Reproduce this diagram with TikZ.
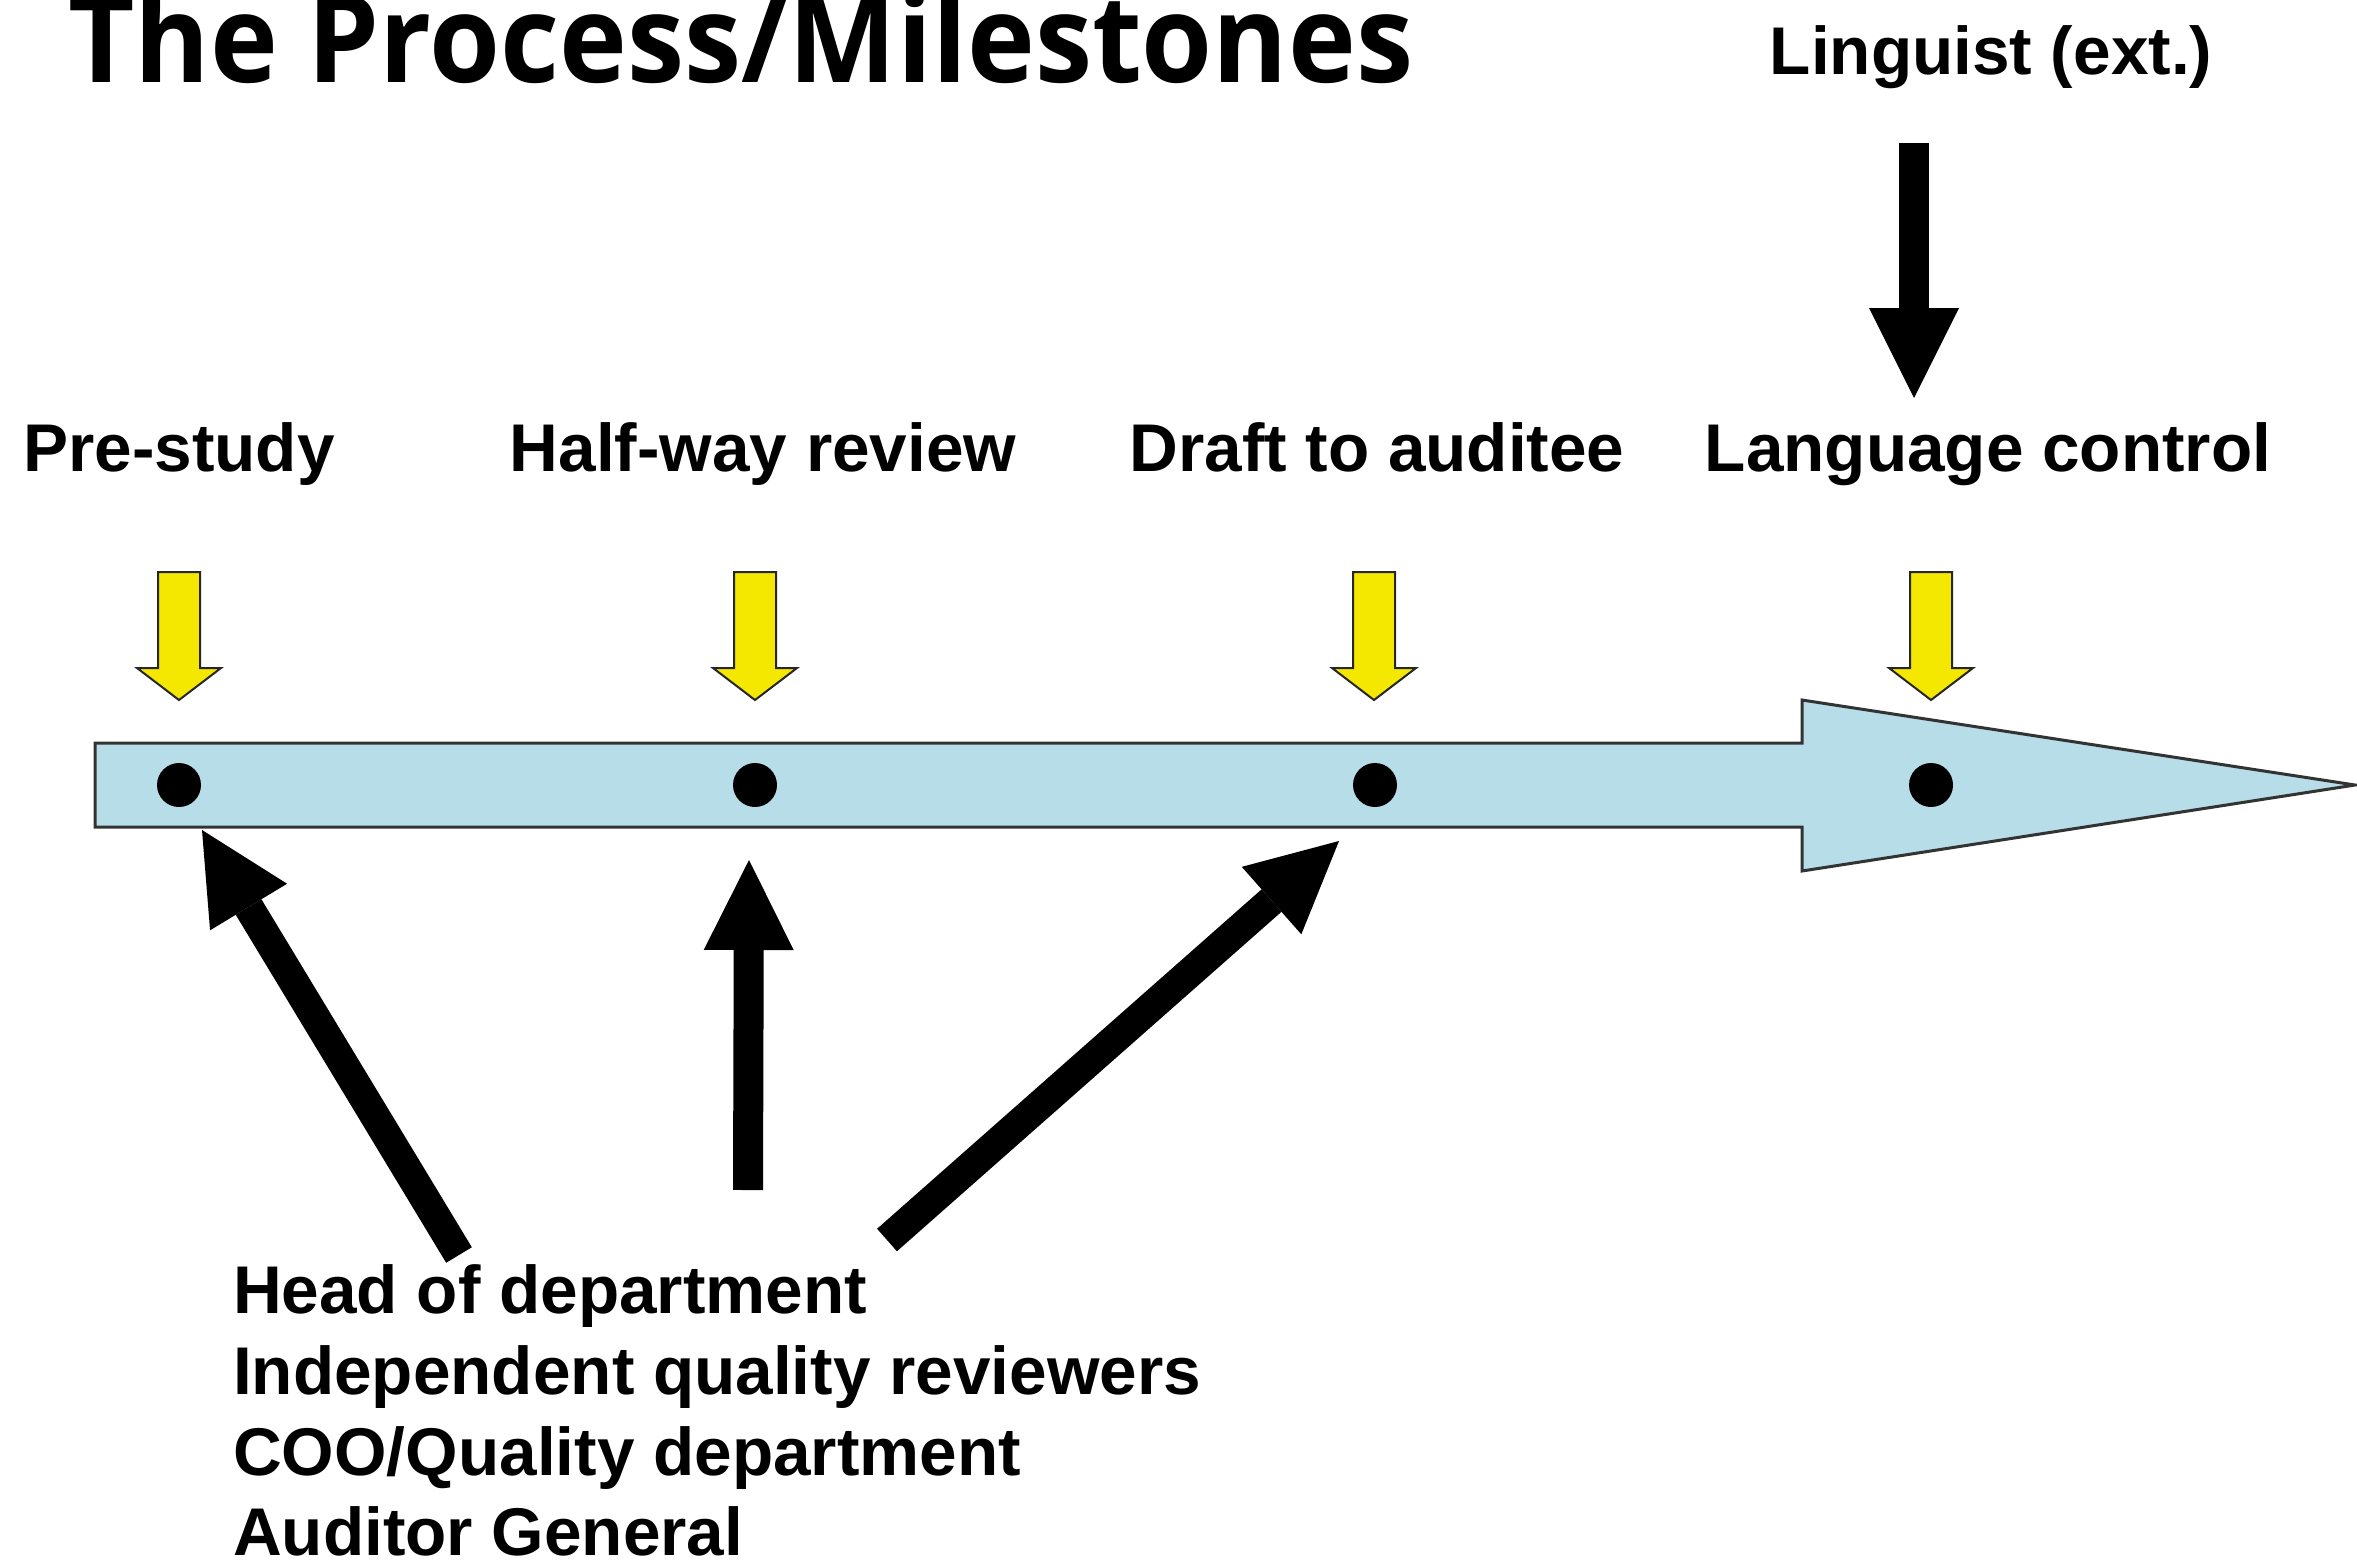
\documentclass[tikz,border=0pt]{standalone}
\usepackage{fontspec}
\setmainfont{Liberation Sans}
\newfontfamily\titlefont{Open Sans}
\usetikzlibrary{arrows.meta}
\definecolor{barblue}{RGB}{183,222,232}
\definecolor{arrowyellow}{RGB}{245,232,0}
\tikzset{
  lbl/.style={inner sep=0pt, font=\fontsize{67.5}{81}\selectfont\bfseries},
  dot/.style={circle, fill=black, inner sep=0pt, minimum size=44pt},
  blk/.style={line width=30pt, black, -{Triangle[length=90pt,width=90pt,line width=0pt]}},
  bar/.style={fill=barblue, draw=black!80, line width=3pt, line join=miter},
  ybox/.style={fill=arrowyellow, draw=black!85, line width=2pt, line join=miter},
  yarrow/.pic={
    \draw[ybox] (-21,-128) -- (21,-128) -- (21,-32) -- (42,-32) -- (0,0)
       -- (-42,-32) -- (-21,-32) -- cycle;
  }
}
\begin{document}
\begin{tikzpicture}[x=1pt,y=-1pt]
\useasboundingbox (0,0) rectangle (2357,1561);

% title
\node[anchor=base west, inner sep=0pt] (title) at (68,82)
  {\resizebox{1345pt}{\height}{\titlefont\bfseries\fontsize{122}{122}\selectfont The Process/Milestones}};

% timeline bar
\draw[bar] (95,743) -- (1802,743) -- (1802,700) -- (2355,785) -- (1802,871)
  -- (1802,827) -- (95,827) -- cycle;

% milestone dots
\node[dot] (d1) at (179,785) {};
\node[dot] (d2) at (755,785) {};
\node[dot] (d3) at (1375,785) {};
\node[dot] (d4) at (1931,785) {};

% yellow arrows
\pic at (179,700) {yarrow};
\pic at (755,700) {yarrow};
\pic at (1374,700) {yarrow};
\pic at (1931,700) {yarrow};

% milestone labels
\node[lbl, anchor=base] (pre) at (179,471) {Pre-study};
\node[lbl, anchor=base] (half) at (763,471) {Half-way review};
\node[lbl, anchor=base] (draft) at (1377,471) {Draft to auditee};
\node[lbl, anchor=base] (lang) at (1988,471) {Language control};

% linguist
\node[lbl, anchor=base] (ling) at (1991,74) {Linguist (ext.)};
\coordinate (lingtail) at (1914,143);
\coordinate (lingtip) at (1914,398);
\draw[blk] (lingtail) -- (lingtip);

% reviewers list
\node[lbl, anchor=base west] (hod) at (233,1313) {Head of department};
\node[lbl, anchor=base west] (iqr) at (233,1394) {Independent quality reviewers};
\node[lbl, anchor=base west] (coo) at (233,1475) {COO/Quality department};
\node[lbl, anchor=base west] (ag) at (233,1555) {Auditor General};

% black arrows from reviewers
\coordinate (t1) at (459,1255);
\coordinate (h1) at (202,830);
\coordinate (t2) at (748,1190);
\coordinate (h2) at (749,860);
\coordinate (t3) at (887,1240);
\coordinate (h3) at (1339,841);
\draw[blk] (t1) -- (h1);
\draw[blk] (t2) -- (h2);
\draw[blk] (t3) -- (h3);
\end{tikzpicture}
\end{document}
